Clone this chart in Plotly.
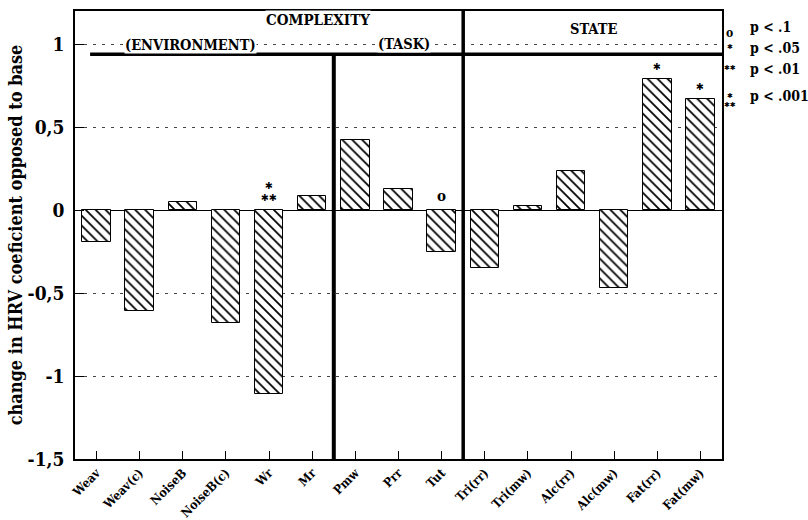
import plotly.graph_objects as go

# Condition labels and mean change in HRV coefficient relative to baseline
categories = ["Weav", "Weav(c)", "NoiseB", "NoiseB(c)", "Wr", "Mr",
              "Pmw", "Prr", "Tut",
              "Tri(rr)", "Tri(mw)", "Alc(rr)", "Alc(mw)", "Fat(rr)", "Fat(mw)"]
values = [-0.19, -0.61, 0.05, -0.68, -1.11, 0.086,
          0.42, 0.13, -0.25,
          -0.35, 0.022, 0.233, -0.47, 0.79, 0.67]
# significance markers per condition
signif = ["", "", "", "", "p<.001", "",
          "", "", "p<.1",
          "", "", "", "", "p<.05", "p<.05"]

y_tickvals = [1, 0.5, 0, -0.5, -1, -1.5]
y_ticktext = ["1", "0,5", "0", "-0,5", "-1", "-1,5"]

legend_levels = ["p<.1", "p<.05", "p<.01", "p<.001"]
legend_texts = ["p < .1", "p < .05", "p < .01", "p < .001"]

FONT = "DejaVu Serif Condensed, DejaVu Serif"
STAR = "\u2731"
symbols = {"p<.1": "o", "p<.05": STAR, "p<.01": STAR + STAR,
           "p<.001": STAR + "<br>" + STAR + STAR}


def bold(size):
    return dict(family=FONT, size=size, color="black", weight="bold")


fig = go.Figure()
fig.add_trace(go.Bar(
    x=list(range(len(categories))), y=values, width=0.66,
    marker=dict(color="white", line=dict(color="black", width=1),
                pattern=dict(shape="\\", fgcolor="black", bgcolor="white",
                             size=7, solidity=0.25, fgopacity=1)),
    hoverinfo="skip",
))

# section dividers
fig.add_shape(type="line", xref="x", yref="y", x0=5.5, x1=5.5, y0=-1.5, y1=0.94,
              line=dict(color="black", width=4))
fig.add_shape(type="line", xref="x", yref="y", x0=8.5, x1=8.5, y0=-1.5, y1=1.2,
              line=dict(color="black", width=3.5))
fig.add_shape(type="line", xref="x", yref="y", x0=-0.15, x1=14.5, y0=0.94, y1=0.94,
              line=dict(color="black", width=3.5))

# section headers
hdr = dict(showarrow=False, bgcolor="white", xref="x", yref="y", borderpad=0)
fig.add_annotation(text="COMPLEXITY", x=5.13, y=1.145, font=bold(15), **hdr)
fig.add_annotation(text="(ENVIRONMENT)", x=2.17, y=1.0, font=bold(14.5), **hdr)
fig.add_annotation(text="(TASK)", x=7.13, y=1.005, font=bold(14.5), **hdr)
fig.add_annotation(text="STATE", x=11.51, y=1.096, font=bold(14.5), **hdr)

# significance markers above bars
for i, (v, s) in enumerate(zip(values, signif)):
    if not s:
        continue
    base = max(v, 0)
    if s == "p<.1":
        fig.add_annotation(text="o", x=i, y=base + 0.02, yanchor="bottom",
                           showarrow=False, font=bold(15))
    else:
        fig.add_annotation(text=symbols[s], x=i, y=base + 0.03, yanchor="bottom",
                           showarrow=False,
                           font=dict(family="DejaVu Sans", size=9.5, color="black"))

# significance key on the right
key_y = [0.964, 0.918, 0.87, 0.81]
for lvl, txt, ky in zip(legend_levels, legend_texts, key_y):
    sym = symbols[lvl]
    if lvl == "p<.1":
        fig.add_annotation(text="o", xref="paper", yref="paper", x=1.012, y=ky - 0.012,
                           xanchor="center", yanchor="middle", showarrow=False,
                           font=bold(12))
    else:
        fig.add_annotation(text=sym, xref="paper", yref="paper", x=1.012,
                           y=ky - (0.01 if lvl == "p<.001" else -0.002),
                           xanchor="center", yanchor="middle", showarrow=False,
                           font=dict(family="DejaVu Sans", size=7, color="black"))
    fig.add_annotation(text=txt, xref="paper", yref="paper", x=1.040, y=ky,
                       xanchor="left", yanchor="middle", showarrow=False,
                       font=bold(14))

fig.update_layout(
    width=808, height=520,
    margin=dict(l=75, r=86, t=11, b=61),
    plot_bgcolor="white", paper_bgcolor="white",
    showlegend=False, bargap=0,
    font=dict(family=FONT, color="black"),
)
fig.update_xaxes(
    range=[-0.5, 14.5], tickmode="array",
    tickvals=list(range(len(categories))), ticktext=categories,
    tickangle=-45, ticks="inside", ticklen=8, tickcolor="black",
    showline=True, linecolor="black", linewidth=1.5, mirror=True,
    showgrid=False, zeroline=False, automargin=False,
    tickfont=bold(12.5),
)
fig.update_yaxes(
    range=[-1.5, 1.2], tickmode="array",
    tickvals=y_tickvals, ticktext=y_ticktext,
    ticks="inside", ticklen=9, tickcolor="black",
    showline=True, linecolor="black", linewidth=1.5, mirror=True,
    showgrid=True, gridcolor="#444", gridwidth=1, griddash="3px,6px",
    zeroline=True, zerolinecolor="black", zerolinewidth=1, automargin=False,
    tickfont=bold(19), ticklabelstandoff=5,
    title=dict(text="change in HRV coeficient opposed to base",
               font=bold(18), standoff=0),
)

fig.write_html("out.html")
